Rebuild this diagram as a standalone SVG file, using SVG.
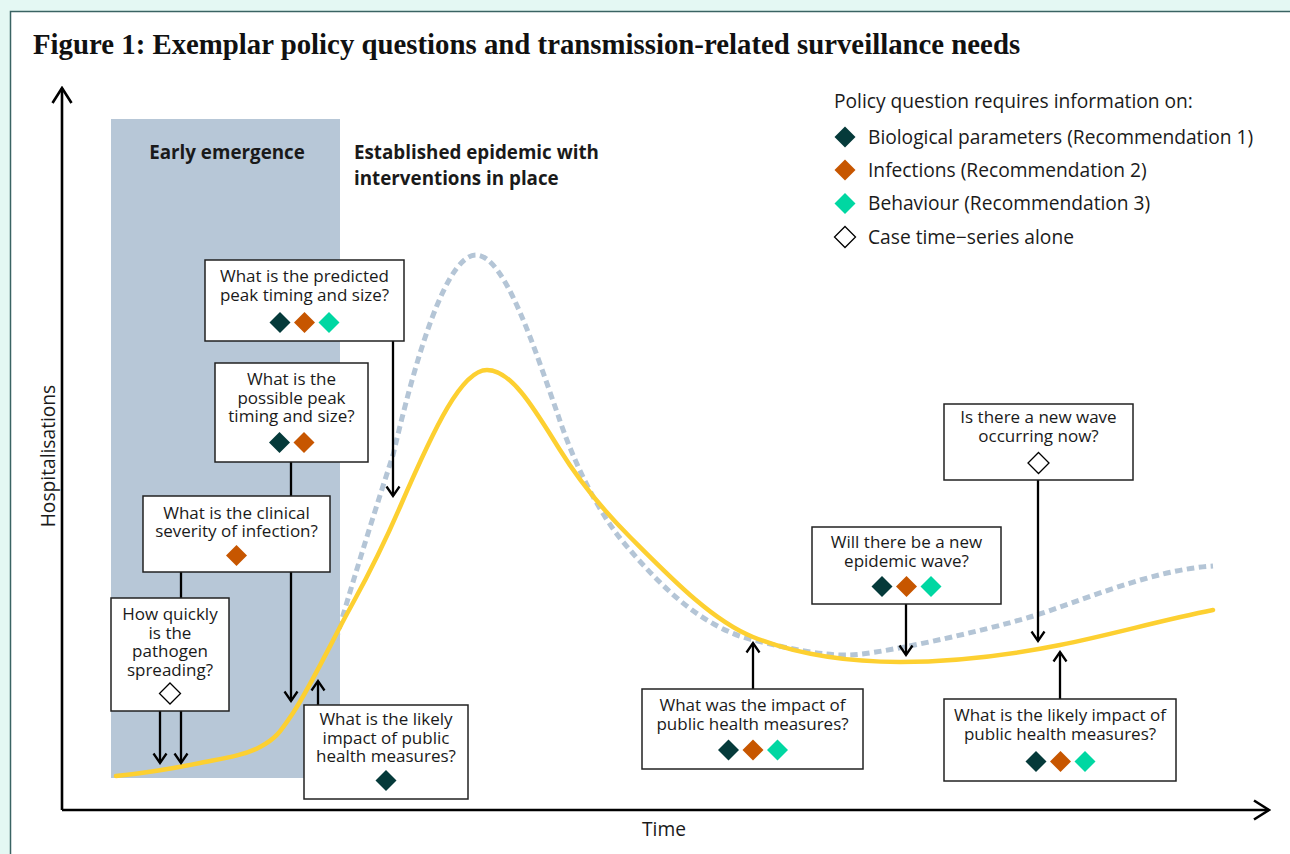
<svg xmlns="http://www.w3.org/2000/svg" width="1290" height="854" viewBox="0 0 1290 854">
  <style>
    .t { font-family: "Open Sans", "Noto Sans", sans-serif; font-size: 17px; fill: #1a1a1a; }
    .c { text-anchor: middle; }
    .b { font-weight: 700; font-size: 18.8px; }
    .lg { font-size: 19.2px; }
    .ax { font-size: 19.2px; }
    .title { font-family: "Liberation Serif", serif; font-weight: 700; font-size: 28.8px; fill: #111; }
    .box { fill: #fff; stroke: #222; stroke-width: 1.5; }
    .conn { stroke: #000; stroke-width: 2.3; fill: none; }
    .axis { stroke: #000; stroke-width: 2.6; fill: none; }
    .d1 { fill: #053a3a; }
    .d2 { fill: #c75600; }
    .d3 { fill: #00d7a2; }
    .d0 { fill: #fff; stroke: #000; stroke-width: 1.3; }
  </style>
  <defs>
    <path id="dia" d="M0,-10.5 L10.5,0 L0,10.5 L-10.5,0 Z"/>
    <marker id="head" markerUnits="userSpaceOnUse" viewBox="-12 -8 14 16" refX="0" refY="0" markerWidth="14" markerHeight="16" orient="auto">
      <path d="M-9.5,-6.5 L0,0 L-9.5,6.5" fill="none" stroke="#000" stroke-width="2.3"/>
    </marker>
    <marker id="axhead" markerUnits="userSpaceOnUse" viewBox="-18 -12 20 24" refX="0" refY="0" markerWidth="20" markerHeight="24" orient="auto">
      <path d="M-15,-9.5 L0,0 L-15,9.5" fill="none" stroke="#000" stroke-width="2.6"/>
    </marker>
  </defs>

  <!-- page background and frame -->
  <rect x="0" y="0" width="1290" height="854" fill="#e4f8f3"/>
  <rect x="10.5" y="11.5" width="1300" height="860" fill="#fff" stroke="#3a6363" stroke-width="1.5"/>

  <text class="title" x="33" y="54">Figure 1: Exemplar policy questions and transmission-related surveillance needs</text>

  <!-- early emergence phase -->
  <rect x="111" y="119" width="229" height="659" fill="#b7c7d7"/>
  <text class="t b c" x="227" y="159">Early emergence</text>
  <text class="t b" x="354" y="159">Established epidemic with</text>
  <text class="t b" x="354" y="184.5">interventions in place</text>

  <!-- axes -->
  <g id="axes">
    <path class="axis" d="M62,810 V88" marker-end="url(#axhead)"/>
    <path class="axis" d="M62,810 H1269" marker-end="url(#axhead)"/>
    <text class="t c ax" transform="translate(55,456) rotate(-90)">Hospitalisations</text>
    <text class="t c ax" x="664" y="836">Time</text>
  </g>

  <!-- epidemic curves: unmitigated (dashed) and with interventions (solid) -->
  <g id="curves" fill="none">
    <path d="M336,640 C350,590 372,520 393,455 C405,405 440,255 476,255 C505,255 535,350 558,415 C572,458 598,515 630,550 C665,591 705,628 753,640 C790,649 825,656 850,655 C880,654 980,632 1030,617 C1080,602 1150,570 1213,566" stroke="#b4c5d6" stroke-width="5" stroke-dasharray="7.5 4.5"/>
    <path d="M116,776 C144,773.3 176,767.8 200,763 C224,758.2 244.5,755.3 260,747 C275.5,738.7 279.7,733 293,713 C306.3,693 322.2,661.3 340,627 C357.8,592.7 371,573.7 400,507 C435,426 462,370 487,370 C512,370 535,410 560,450 C583,487 607,514 630,537 C671,578 712,620.6 753,637 C802,656.6 851,662 900,662 C953,662 1007,655.6 1060,645 C1111,634.8 1162,620 1213,610" stroke="#fdd031" stroke-width="4.5" stroke-linecap="round"/>
  </g>

  <!-- connectors from questions to the curve -->
  <g id="connectors">
    <path class="conn" d="M393,341 V496" marker-end="url(#head)"/>
    <path class="conn" d="M291,462 V701" marker-end="url(#head)"/>
    <path class="conn" d="M181,572 V763" marker-end="url(#head)"/>
    <path class="conn" d="M160,711 V763" marker-end="url(#head)"/>
    <path class="conn" d="M318,705 V681" marker-end="url(#head)"/>
    <path class="conn" d="M753,689 V643" marker-end="url(#head)"/>
    <path class="conn" d="M906,604 V655" marker-end="url(#head)"/>
    <path class="conn" d="M1038,480 V641" marker-end="url(#head)"/>
    <path class="conn" d="M1060,699 V652" marker-end="url(#head)"/>
  </g>

  <!-- question boxes -->
  <g id="q-predicted-peak">
    <rect class="box" x="205" y="260" width="199" height="81"/>
    <text class="t c" x="304.5" y="282">What is the predicted</text>
    <text class="t c" x="304.5" y="301">peak timing and size?</text>
    <use href="#dia" class="d1" x="280" y="322.5"/>
    <use href="#dia" class="d2" x="304.5" y="322.5"/>
    <use href="#dia" class="d3" x="329" y="322.5"/>
  </g>

  <g id="q-possible-peak">
    <rect class="box" x="215" y="363" width="153" height="99"/>
    <text class="t c" x="291.5" y="385">What is the</text>
    <text class="t c" x="291.5" y="403.5">possible peak</text>
    <text class="t c" x="291.5" y="422">timing and size?</text>
    <use href="#dia" class="d1" x="279.5" y="442.5"/>
    <use href="#dia" class="d2" x="304" y="442.5"/>
  </g>

  <g id="q-clinical-severity">
    <rect class="box" x="143" y="496" width="187" height="76"/>
    <text class="t c" x="236.5" y="519">What is the clinical</text>
    <text class="t c" x="236.5" y="537">severity of infection?</text>
    <use href="#dia" class="d2" x="236.5" y="555.5"/>
  </g>

  <g id="q-spread">
    <rect class="box" x="111" y="598" width="118" height="113"/>
    <text class="t c" x="170" y="620">How quickly</text>
    <text class="t c" x="170" y="638.5">is the</text>
    <text class="t c" x="170" y="657">pathogen</text>
    <text class="t c" x="170" y="675.5">spreading?</text>
    <use href="#dia" class="d0" x="170" y="693.5"/>
  </g>

  <g id="q-likely-impact-early">
    <rect class="box" x="304" y="705" width="164" height="94"/>
    <text class="t c" x="386" y="725">What is the likely</text>
    <text class="t c" x="386" y="743.5">impact of public</text>
    <text class="t c" x="386" y="762">health measures?</text>
    <use href="#dia" class="d1" x="386" y="780.5"/>
  </g>

  <g id="q-past-impact">
    <rect class="box" x="642" y="689" width="221" height="80"/>
    <text class="t c" x="752.5" y="711">What was the impact of</text>
    <text class="t c" x="752.5" y="730">public health measures?</text>
    <use href="#dia" class="d1" x="728.5" y="750"/>
    <use href="#dia" class="d2" x="753" y="750"/>
    <use href="#dia" class="d3" x="777.5" y="750"/>
  </g>

  <g id="q-new-wave">
    <rect class="box" x="812" y="527" width="189" height="77"/>
    <text class="t c" x="906.5" y="547.5">Will there be a new</text>
    <text class="t c" x="906.5" y="566.5">epidemic wave?</text>
    <use href="#dia" class="d1" x="882" y="586.5"/>
    <use href="#dia" class="d2" x="906.5" y="586.5"/>
    <use href="#dia" class="d3" x="931" y="586.5"/>
  </g>

  <g id="q-wave-now">
    <rect class="box" x="944" y="404" width="189" height="76"/>
    <text class="t c" x="1038.5" y="423">Is there a new wave</text>
    <text class="t c" x="1038.5" y="441.5">occurring now?</text>
    <use href="#dia" class="d0" x="1038.5" y="463"/>
  </g>

  <g id="q-likely-impact-late">
    <rect class="box" x="944" y="699" width="232" height="82"/>
    <text class="t c" x="1060" y="721">What is the likely impact of</text>
    <text class="t c" x="1060" y="739.5">public health measures?</text>
    <use href="#dia" class="d1" x="1036" y="761.5"/>
    <use href="#dia" class="d2" x="1060.5" y="761.5"/>
    <use href="#dia" class="d3" x="1085" y="761.5"/>
  </g>

  <!-- legend -->
  <g id="legend">
    <text class="t lg" x="834" y="108">Policy question requires information on:</text>
    <use href="#dia" class="d1" x="845" y="137"/>
    <text class="t lg" x="868" y="144">Biological parameters (Recommendation 1)</text>
    <use href="#dia" class="d2" x="845" y="170"/>
    <text class="t lg" x="868" y="177">Infections (Recommendation 2)</text>
    <use href="#dia" class="d3" x="845" y="203.5"/>
    <text class="t lg" x="868" y="210">Behaviour (Recommendation 3)</text>
    <use href="#dia" class="d0" x="845" y="237"/>
    <text class="t lg" x="868" y="243.5">Case time−series alone</text>
  </g>
</svg>
